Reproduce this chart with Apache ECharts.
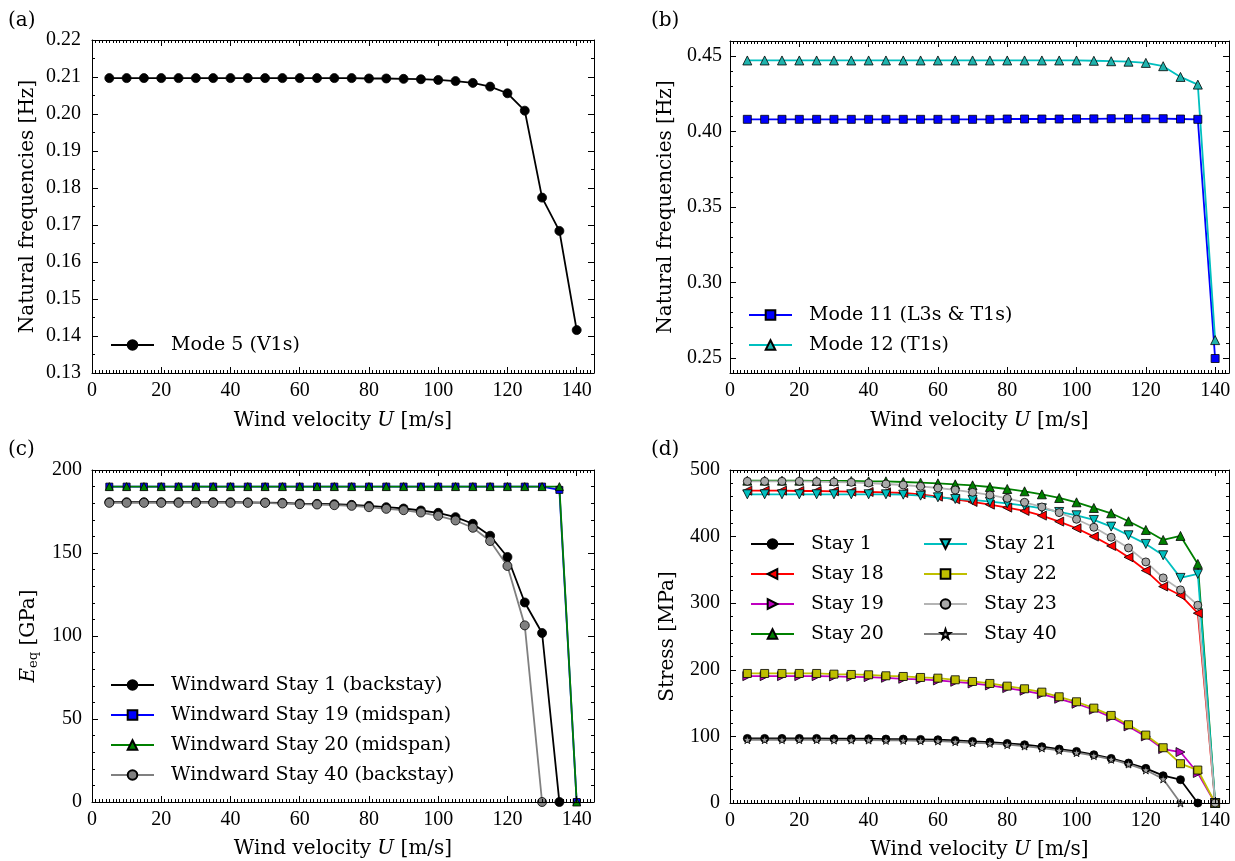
<!DOCTYPE html>
<html>
<head>
<meta charset="utf-8">
<script src="https://cdn.jsdelivr.net/npm/echarts@6/dist/echarts.min.js"></script>
<style>
  html, body { margin: 0; padding: 0; background: #fff; }
  #chart { width: 1235px; height: 861px; }
</style>
</head>
<body>
<div id="chart"></div>
<script>
// Wind velocity U [m/s] at which each case was computed
const windSpeed = [5, 10, 15, 20, 25, 30, 35, 40, 45, 50, 55, 60, 65, 70, 75, 80, 85, 90, 95, 100, 105, 110, 115, 120, 125, 130, 135, 140];

// (a) natural frequency of mode 5 [Hz]
const mode5 = [0.2097, 0.2097, 0.2097, 0.2097, 0.2097, 0.2097, 0.2097, 0.2097, 0.2097, 0.2097, 0.2097, 0.2097, 0.2097, 0.2097, 0.2097, 0.2096, 0.2096, 0.2095, 0.2094, 0.2092, 0.2089, 0.2084, 0.2074, 0.2056, 0.2009, 0.1774, 0.1684, 0.1416];

// (b) natural frequencies of modes 11 and 12 [Hz]
const mode11 = [0.4081, 0.4081, 0.4081, 0.4081, 0.4081, 0.4081, 0.4081, 0.4081, 0.4081, 0.4081, 0.4081, 0.4081, 0.4081, 0.4081, 0.4081, 0.4083, 0.4083, 0.4083, 0.4083, 0.4084, 0.4084, 0.4085, 0.4085, 0.4085, 0.4085, 0.4083, 0.4081, 0.2496];
const mode12 = [0.4471, 0.4471, 0.4471, 0.4471, 0.4471, 0.4471, 0.4471, 0.4471, 0.4471, 0.4471, 0.4471, 0.4471, 0.4471, 0.4471, 0.4471, 0.4471, 0.4471, 0.4471, 0.4471, 0.4471, 0.4469, 0.4466, 0.4463, 0.4455, 0.4433, 0.4362, 0.4311, 0.2618];

// (c) equivalent modulus E_eq of windward stays [GPa]
const eqStay1 = [180.6, 180.6, 180.6, 180.6, 180.6, 180.6, 180.6, 180.6, 180.5, 180.4, 180.2, 179.8, 179.6, 179.4, 179.0, 178.4, 177.6, 176.8, 175.6, 174.2, 171.6, 167.6, 160.4, 147.6, 120.2, 101.8, 0];
const eqStay19 = [190, 190, 190, 190, 190, 190, 190, 190, 190, 190, 190, 190, 190, 190, 190, 190, 190, 190, 190, 190, 190, 190, 190, 190, 190, 190, 188, 0];
const eqStay20 = [190, 190, 190, 190, 190, 190, 190, 190, 190, 190, 190, 190, 190, 190, 190, 190, 190, 190, 190, 190, 190, 190, 190, 190, 190, 190, 190, 0];
const eqStay40 = [180.2, 180.2, 180.2, 180.2, 180.2, 180.2, 180.2, 180.2, 180.2, 180.2, 179.8, 179.4, 179.2, 178.8, 178.4, 177.6, 176.6, 175.8, 174.4, 172.4, 169.6, 165.2, 157.2, 142.2, 106.4, 0];

// (d) stay stresses [MPa]
const stress1 = [97, 97, 97, 97, 97, 96.5, 96.5, 96.5, 96, 96, 95.5, 95, 94, 92.5, 91.5, 89.5, 87.5, 84.5, 81, 77.5, 72.5, 67, 60, 52, 41, 35, 0];
const stress18 = [469, 469, 469, 468.5, 468.5, 468, 467.5, 467, 466.5, 465.5, 463.5, 460, 456, 452, 448, 443.5, 438.5, 431.5, 422.5, 412.5, 400, 386, 369, 349, 325, 312, 285, 0];
const stress19 = [190.5, 190.5, 190.5, 190.5, 190.5, 190, 189.5, 189, 188, 186.5, 185.5, 184, 182, 179.5, 176.5, 172.5, 168.5, 163.5, 156.5, 149, 140, 129, 115, 100, 81, 76.5, 45, 0];
const stress20 = [484, 484, 484, 484, 483.5, 483.5, 483.5, 483, 483, 482, 481, 480, 478.5, 477, 474.5, 471.5, 468, 463.5, 458, 451.5, 443, 435, 423, 410, 395, 401, 359, 0];
const stress21 = [463.5, 463.5, 463.5, 463.5, 463.5, 463.5, 463.5, 463.5, 463.5, 463, 461.5, 459, 456.5, 455, 452.5, 450, 446.5, 442.5, 437, 432, 425, 415, 402, 389, 372, 338, 344, 0];
const stress22 = [194.5, 194.5, 194.5, 194.5, 194.5, 193.5, 193, 192.5, 191, 190, 188.5, 187.5, 185, 182.5, 179.5, 175.5, 171.5, 166.5, 159.5, 152, 142.5, 131.5, 117.5, 102, 83, 59, 49.5, 0];
const stress23 = [483, 483, 483, 483, 482.5, 482, 481.5, 480.5, 479, 477.5, 475.5, 473, 470, 466.5, 462.5, 457.5, 451.5, 444.5, 436, 426, 414, 399, 383, 362, 338, 320, 297, 0];
const stress40 = [95, 95, 95, 95, 95, 94.5, 94.5, 94.5, 94, 94, 93.5, 93, 92, 90.5, 89.5, 87.5, 85.5, 82.5, 79, 75.5, 71, 65.5, 58.5, 49.5, 36, 0];

// Tick labels
const speedTicks = [0, 20, 40, 60, 80, 100, 120, 140];
const freqTicksA = [0.13, 0.14, 0.15, 0.16, 0.17, 0.18, 0.19, 0.20, 0.21, 0.22];
const freqTicksB = [0.25, 0.30, 0.35, 0.40, 0.45];
const modulusTicks = [0, 50, 100, 150, 200];
const stressTicks = [0, 100, 200, 300, 400, 500];

const TICK_FONT = 'Liberation Serif';
const TEXT_FONT = 'DejaVu Serif';
const BLACK = '#000';

// Four axes per direction: labelled major + minor on bottom/left, unlabelled major + minor on top/right
function axisSet(gi, dim, spec) {
  const near = dim === 'x' ? 'bottom' : 'left';
  const far = dim === 'x' ? 'top' : 'right';
  const base = {
    gridIndex: gi, type: 'value', min: spec.min, max: spec.max,
    splitLine: { show: false }, z: 5
  };
  const lineOn = { show: true, onZero: false, lineStyle: { color: BLACK, width: 1 } };
  const lineOff = { show: false, onZero: false };
  const major = (pos, labelled) => Object.assign({}, base, {
    position: pos,
    interval: spec.minor,
    axisLine: lineOn,
    axisTick: { show: true, inside: true, length: 6, customValues: spec.ticks, lineStyle: { color: BLACK, width: 1 } },
    axisLabel: labelled ? {
      show: true, customValues: spec.ticks, margin: spec.margin,
      fontFamily: TICK_FONT, fontSize: 20, color: BLACK,
      formatter: spec.fmt || (v => String(v))
    } : { show: false }
  }, labelled && spec.name ? {
    name: spec.name, nameLocation: 'middle', nameGap: spec.nameGap,
    nameTextStyle: {
      fontFamily: TEXT_FONT, fontSize: 20, color: BLACK,
      rich: {
        i: { fontFamily: TEXT_FONT, fontSize: 20, fontStyle: 'italic', color: BLACK },
        sub: { fontFamily: TEXT_FONT, fontSize: 13, color: BLACK, verticalAlign: 'bottom', padding: [9, 0, 0, 0] }
      }
    }
  } : {});
  const minor = pos => Object.assign({}, base, {
    position: pos,
    interval: spec.minor,
    axisLine: lineOff,
    axisTick: { show: true, inside: true, length: 3, lineStyle: { color: BLACK, width: 1 } },
    axisLabel: { show: false }
  });
  return [major(near, true), minor(near), major(far, false), minor(far)];
}

const speedName = 'Wind velocity {i|U} [m/s]';
const panels = [
  {
    grid: { left: 92, top: 40, width: 502, height: 333 },
    x: { min: 0, max: 145, minor: 1, ticks: speedTicks, margin: 8, name: speedName, nameGap: 38 },
    y: { min: 0.13, max: 0.22, minor: 0.005, ticks: freqTicksA, margin: 11, fmt: v => v.toFixed(2), name: 'Natural frequencies [Hz]', nameGap: 54 }
  },
  {
    grid: { left: 730, top: 41, width: 499, height: 332 },
    x: { min: 0, max: 144, minor: 1, ticks: speedTicks, margin: 8, name: speedName, nameGap: 38 },
    y: { min: 0.24, max: 0.46, minor: 0.01, ticks: freqTicksB, margin: 8, fmt: v => v.toFixed(2), name: 'Natural frequencies [Hz]', nameGap: 54 }
  },
  {
    grid: { left: 92, top: 470, width: 502, height: 332 },
    x: { min: 0, max: 145, minor: 1, ticks: speedTicks, margin: 8, name: speedName, nameGap: 37 },
    y: { min: 0, max: 200, minor: 10, ticks: modulusTicks, margin: 10, name: '{i|E}{sub|eq} [GPa]', nameGap: 52 }
  },
  {
    grid: { left: 730, top: 470, width: 499, height: 333 },
    x: { min: 0, max: 144, minor: 1, ticks: speedTicks, margin: 8, name: speedName, nameGap: 37 },
    y: { min: 0, max: 500, minor: 20, ticks: stressTicks, margin: 10, name: 'Stress [MPa]', nameGap: 52 }
  }
];

const xAxes = [], yAxes = [];
panels.forEach((p, gi) => {
  xAxes.push(...axisSet(gi, 'x', p.x));
  yAxes.push(...axisSet(gi, 'y', p.y));
});

const STAR = 'path://M0,-10L2.35,-3.24L9.51,-3.09L3.8,1.24L5.88,8.09L0,4L-5.88,8.09L-3.8,1.24L-9.51,-3.09L-2.35,-3.24Z';

function curve(gi, name, values, color, symbol, size, fill, rotate) {
  return {
    type: 'line', name,
    xAxisIndex: gi * 4, yAxisIndex: gi * 4,
    data: values.map((v, i) => [windSpeed[i], v]),
    symbol, symbolSize: size, symbolRotate: rotate || 0,
    showSymbol: true, showAllSymbol: true,
    lineStyle: { color, width: 1.8 },
    itemStyle: { color: fill || color, borderColor: BLACK, borderWidth: 0.8 },
    emphasis: { disabled: true },
    z: 3
  };
}

const series = [
  curve(0, 'Mode 5 (V1s)', mode5, '#000000', 'circle', 9),
  curve(1, 'Mode 11 (L3s & T1s)', mode11, '#0000ff', 'rect', 8),
  curve(1, 'Mode 12 (T1s)', mode12, '#00bfbf', 'triangle', 9, '#1fb3ad'),
  curve(2, 'Windward Stay 1 (backstay)', eqStay1, '#000000', 'circle', 9),
  curve(2, 'Windward Stay 19 (midspan)', eqStay19, '#0000ff', 'rect', 7),
  curve(2, 'Windward Stay 20 (midspan)', eqStay20, '#008000', 'triangle', 8),
  curve(2, 'Windward Stay 40 (backstay)', eqStay40, '#808080', 'circle', 9),
  curve(3, 'Stay 1', stress1, '#000000', 'circle', 8),
  curve(3, 'Stay 18', stress18, '#ff0000', 'triangle', 9, null, 90),
  curve(3, 'Stay 19', stress19, '#bf00bf', 'triangle', 9, null, -90),
  curve(3, 'Stay 20', stress20, '#008000', 'triangle', 9),
  curve(3, 'Stay 21', stress21, '#00bfbf', 'triangle', 9, null, 180),
  curve(3, 'Stay 22', stress22, '#bfbf00', 'rect', 8),
  curve(3, 'Stay 23', stress23, '#b4b4b4', 'circle', 8, '#a9a9a9'),
  curve(3, 'Stay 40', stress40, '#808080', STAR, 8, '#a0a0a0')
];

function legendBox(names, left, top) {
  return {
    data: names, left, top, orient: 'vertical', padding: 0,
    itemWidth: 43, itemHeight: 12, itemGap: 10,
    selectedMode: false,
    textStyle: { fontFamily: TEXT_FONT, fontSize: 19, color: BLACK, lineHeight: 20, padding: [0, 0, 0, 12] }
  };
}

const legends = [
  legendBox(['Mode 5 (V1s)'], 110, 335),
  legendBox(['Mode 11 (L3s & T1s)', 'Mode 12 (T1s)'], 748, 305),
  legendBox(['Windward Stay 1 (backstay)', 'Windward Stay 19 (midspan)', 'Windward Stay 20 (midspan)', 'Windward Stay 40 (backstay)'], 110, 675),
  legendBox(['Stay 1', 'Stay 18', 'Stay 19', 'Stay 20'], 750, 534),
  legendBox(['Stay 21', 'Stay 22', 'Stay 23', 'Stay 40'], 923, 534)
];

const panelTag = (text, left, top) => ({
  type: 'text', left, top,
  style: { text, fontFamily: TEXT_FONT, fontSize: 20, fill: BLACK }
});

const chart = echarts.init(document.getElementById('chart'), null, { renderer: 'canvas' });
chart.setOption({
  animation: false,
  backgroundColor: '#fff',
  grid: panels.map(p => Object.assign({ containLabel: false }, p.grid)),
  xAxis: xAxes,
  yAxis: yAxes,
  legend: legends,
  series,
  graphic: [
    panelTag('(a)', 8, 11),
    panelTag('(b)', 651, 11),
    panelTag('(c)', 8, 440),
    panelTag('(d)', 651, 440)
  ]
});
</script>
</body>
</html>
